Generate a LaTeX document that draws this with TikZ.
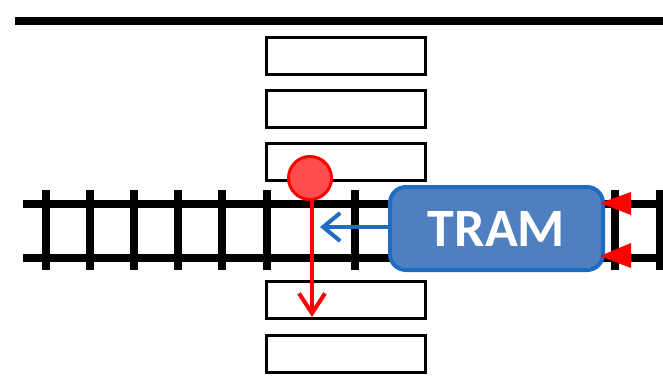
\documentclass[tikz,border=0pt]{standalone}
\usepackage{fontspec}
\setmainfont{Carlito}
\usetikzlibrary{arrows.meta}
\definecolor{tramfill}{HTML}{4F7FBE}
\definecolor{tramedge}{HTML}{1F6CC4}
\definecolor{arrowblue}{HTML}{1F6CC4}
\definecolor{sigfill}{HTML}{FF4D4D}
\definecolor{sigred}{HTML}{FF0000}
\tikzset{
  rail/.style={line width=8pt},
  tie/.style={line width=8pt},
  crossbox/.style={draw=black, fill=white, line width=3pt, minimum width=159pt, minimum height=37pt, inner sep=0pt},
  tramnode/.style={draw=tramedge, fill=tramfill, line width=4pt, rounded corners=16pt, minimum width=213pt, minimum height=83pt, text=white, font=\fontsize{54}{54}\selectfont\bfseries},
  signal/.style={circle, draw=sigred, fill=sigfill, line width=3pt, minimum size=43pt, inner sep=0pt},
  redarrow/.style={draw=sigred, line width=4pt, -{Straight Barb[length=20pt,width=26pt,line width=4pt]}, line cap=round},
  bluearrow/.style={draw=arrowblue, line width=4pt, -{Straight Barb[length=17pt,width=28pt,line width=4pt]}, line cap=round},
}
\begin{document}
\begin{tikzpicture}[x=1pt,y=-1pt]
\useasboundingbox (0,0) rectangle (663,378);
% road edge
\draw[line width=8pt] (15,21) -- (663,21);
% rails
\draw[rail] (23,203.5) -- (663,203.5);
\draw[rail] (23,258) -- (663,258);
\foreach \x in {46,90,134,178,222,267,355,615,660}
  \draw[tie] (\x,190) -- (\x,270);
% crossing boxes
\node[crossbox] (b1) at (346,55.5) {};
\node[crossbox] (b2) at (346,108.5) {};
\node[crossbox] (b3) at (346,161.5) {};
\node[crossbox] (b4) at (346,299.5) {};
\node[crossbox] (b5) at (346,353.5) {};
% signal
\node[signal] (sig) at (310,178) {};
\coordinate (redend) at (312,317);
\draw[redarrow] (sig.south -| redend) -- (redend);
% tram
\node[tramnode] (tram) at (496.5,228.5) {TRAM};
\coordinate (blueend) at (320,227);
\draw[bluearrow] (tram.west |- blueend) -- (blueend);
% red triangles at the tram's back
\coordinate (t1) at (600,203);
\coordinate (t2) at (600,256);
\fill[sigred] (t1) -- ++(31,-11) -- ++(0,23) -- cycle;
\fill[sigred] (t2) -- ++(31,-13) -- ++(0,25) -- cycle;
\end{tikzpicture}
\end{document}
